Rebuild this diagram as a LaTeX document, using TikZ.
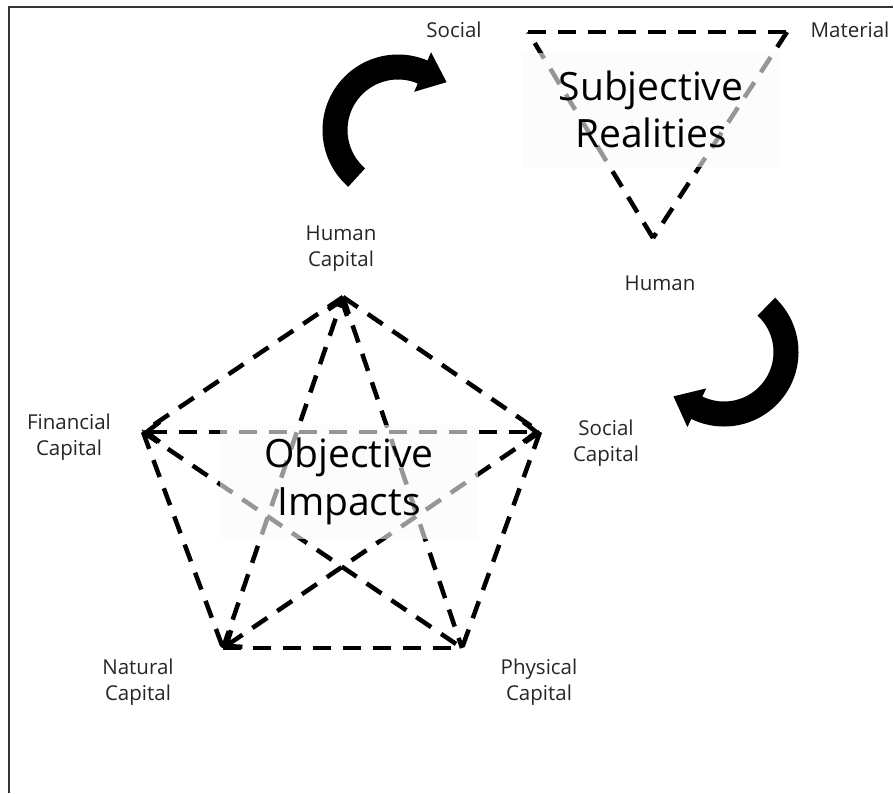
\documentclass[tikz,border=0pt]{standalone}
\usepackage{fontspec}
\setmainfont{Open Sans}
\usetikzlibrary{arrows.meta,calc}
\begin{document}
\begin{tikzpicture}[x=1pt,y=-1pt,
  dline/.style={line width=4.5pt, dash pattern=on 18pt off 12pt, black},
  barbend/.style={-{Straight Barb[length=13pt,width=20pt]}},
  barbboth/.style={{Straight Barb[length=13pt,width=20pt]}-{Straight Barb[length=13pt,width=20pt]}},
  lbl/.style={font=\fontsize{20.5}{26}\selectfont, align=center, inner sep=0pt, text=black!85},
  bigbox/.style={fill=black!2, fill opacity=0.6, text opacity=1, minimum width=258pt, minimum height=114pt, inner sep=0pt, font=\fontsize{39}{47.5}\selectfont, align=center, text=black},
  frame/.style={line width=2pt, black!80},
  cyc/.style={line width=25pt, black}
]
\useasboundingbox (0,0) rectangle (894,793);
\draw[frame] (9,793) -- (9,7) -- (893,7);

% pentagon vertices
\coordinate (HC) at (343,297);
\coordinate (FC) at (143,432);
\coordinate (SC) at (540,432);
\coordinate (NC) at (223,648);
\coordinate (PC) at (462,648);
% triangle vertices
\coordinate (TS) at (528,32);
\coordinate (TM) at (787,32);
\coordinate (TH) at (653,238);

% pentagon edges and diagonals
\draw[dline] (HC) -- (FC);
\draw[dline] (HC) -- (SC);
\draw[dline] (FC) -- (NC);
\draw[dline] (SC) -- (PC);
\draw[dline] (NC) -- (PC);
\draw[dline] (HC) -- (PC);
\draw[dline] (FC) -- (PC);
\draw[dline,barbend] (NC) -- (HC);
\draw[dline,barbend] (SC) -- (NC);
\draw[dline,barbboth] (FC) -- (SC);

% triangle
\draw[dline] (TS) -- (TM);
\draw[dline] (TM) -- (TH);
\draw[dline] (TH) -- (TS);

% boxes
\node[bigbox] (subj) at (651,109.5) {Subjective\\Realities};
\node[bigbox] (obj) at (349,481.5) {Objective\\Impacts};

% labels
\node[lbl, anchor=base] (lsoc) at (454,37.5) {Social};
\node[lbl, anchor=base] (lmat) at (850,37.5) {Material};
\node[lbl, anchor=base] (lhum) at (660,290) {Human};
\node[lbl, anchor=north] (lhc) at (341,226) {Human\\Capital};
\node[lbl, anchor=north] (lfc) at (69,414) {Financial\\Capital};
\node[lbl, anchor=north] (lsc) at (606,420) {Social\\Capital};
\node[lbl, anchor=north] (lnc) at (138,659) {Natural\\Capital};
\node[lbl, anchor=north] (lpc) at (539,659) {Physical\\Capital};

% curved cycle arrows
\coordinate (c1) at (398,130);
\draw[cyc] plot[domain=131:295, samples=60] ({398+63*cos(\x)},{130+63*sin(\x)});
\fill ($(c1)+(293:84.5)$) -- ($(c1)+(293:41.5)$) -- ($(c1)+(293:63)+(23:26)$) -- cycle;
\coordinate (c2) at (724,352);
\draw[cyc] plot[domain=313:478, samples=60] ({724+62*cos(\x)},{352+62*sin(\x)});
\fill ($(c2)+(476:83.5)$) -- ($(c2)+(476:40.5)$) -- ($(c2)+(476:62)+(566:26)$) -- cycle;
\end{tikzpicture}
\end{document}
